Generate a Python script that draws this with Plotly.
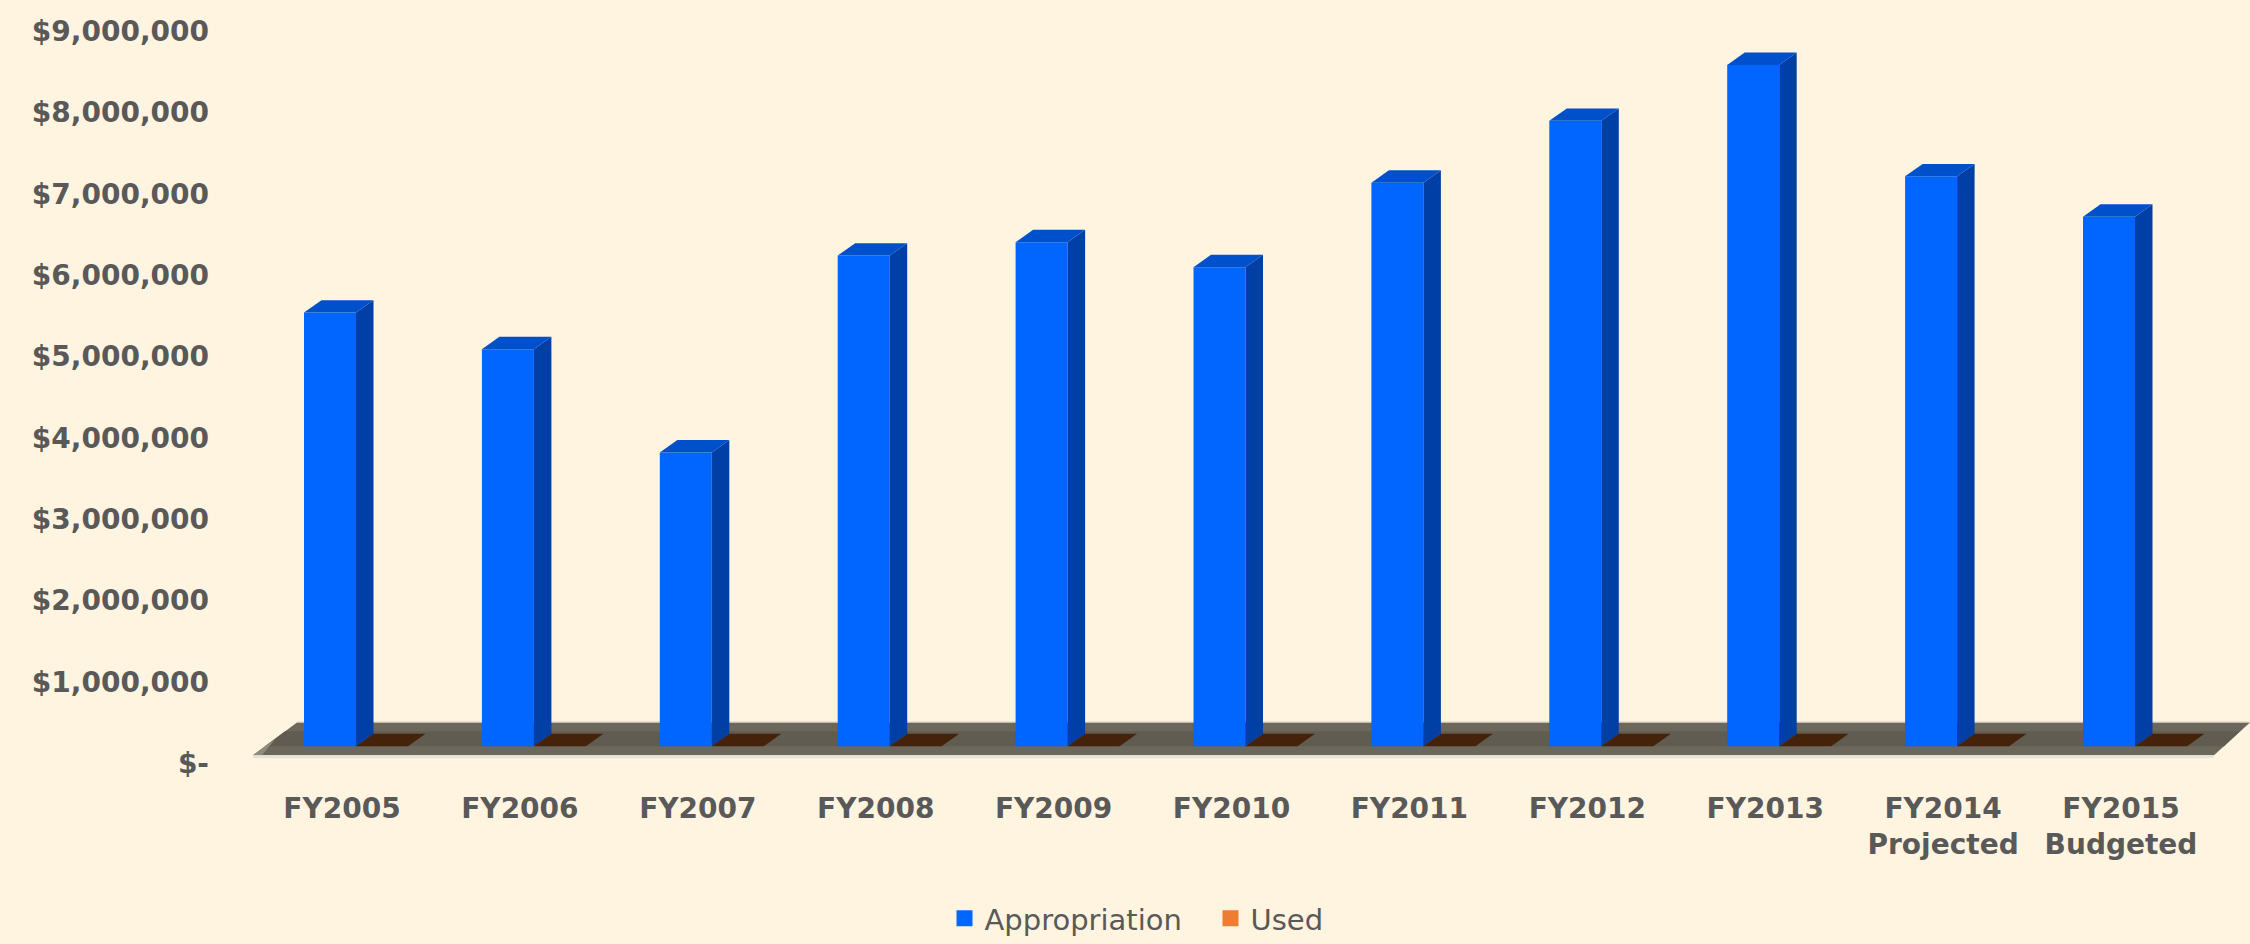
import plotly.graph_objects as go

# ---------------- data ----------------
categories = ["FY2005", "FY2006", "FY2007", "FY2008", "FY2009", "FY2010",
              "FY2011", "FY2012", "FY2013", "FY2014<br>Projected", "FY2015<br>Budgeted"]
appropriation = [5330000, 4880000, 3610000, 6030000, 6195000, 5887000,
                 6927000, 7687000, 8374000, 7004000, 6508000]
used = [0, 0, 0, 0, 0, 0, 0, 0, 0, 0, 0]
y_tickvals = [0, 1000000, 2000000, 3000000, 4000000, 5000000, 6000000, 7000000, 8000000, 9000000]
y_ticktext = ["$-", "$1,000,000", "$2,000,000", "$3,000,000", "$4,000,000", "$5,000,000",
              "$6,000,000", "$7,000,000", "$8,000,000", "$9,000,000"]

# ---------------- geometry / style ----------------
W, H = 2250, 944
ML, MR, MT, MB = 210, 0, 8, 159
PX_PER_CAT = 177.9
CAT0_PX = 342.0
ZERO_PX = 752.0
PX_PER_DOLLAR = 82.0 / 1e6

def xd(px):
    return (px - CAT0_PX) / PX_PER_CAT

def yd(py):
    return (ZERO_PX - py) / PX_PER_DOLLAR

x_range = [xd(ML), xd(W - MR)]
y_range = [yd(H - MB), yd(MT)]

BAR_W = 52 / PX_PER_CAT
APP_OFF = -38 / PX_PER_CAT
USED_OFF = 14 / PX_PER_CAT
DX = 17.5 / PX_PER_CAT
DY = 12.5 / PX_PER_DOLLAR

BG = "#FFF4DF"
FRONT = "#0066FF"
SIDE = "#0040A6"
CAP = "#0050CC"
USED_COLOR = "#EE7D31"
USED_TOP = "#45230A"
TXT = "#595959"
FONT = "DejaVu Sans"

n = len(categories)
xs = list(range(n))

fig = go.Figure()

# front faces of the bars
fig.add_trace(go.Bar(
    x=xs, y=appropriation, name="Appropriation",
    offset=APP_OFF, width=BAR_W, legendgroup="app", showlegend=False,
    marker=dict(color=FRONT, line=dict(width=0)),
    hoverinfo="skip"))
fig.add_trace(go.Bar(
    x=xs, y=used, name="Used",
    offset=USED_OFF, width=BAR_W, legendgroup="used", showlegend=False,
    marker=dict(color=USED_COLOR, line=dict(width=0)),
    hoverinfo="skip"))

# 3D side faces and caps, derived from the data
for i, v in enumerate(appropriation):
    xl = i + APP_OFF
    xr = xl + BAR_W
    fig.add_trace(go.Scatter(
        x=[xr, xr + DX, xr + DX, xr, xr], y=[0, DY, v + DY, v, 0],
        fill="toself", fillcolor=SIDE, mode="lines", line=dict(width=0),
        showlegend=False, hoverinfo="skip"))
    fig.add_trace(go.Scatter(
        x=[xl, xl + DX, xr + DX, xr, xl], y=[v, v + DY, v + DY, v, v],
        fill="toself", fillcolor=CAP, mode="lines", line=dict(width=0),
        showlegend=False, hoverinfo="skip"))

for i, v in enumerate(used):
    xl = i + USED_OFF
    xr = xl + BAR_W
    fig.add_trace(go.Scatter(
        x=[xl, xl + DX, xr + DX, xr, xl], y=[v, v + DY, v + DY, v, v],
        fill="toself", fillcolor=USED_TOP, mode="lines", line=dict(width=0),
        showlegend=False, hoverinfo="skip"))

# legend entries (square swatches)
fig.add_trace(go.Scatter(x=[None], y=[None], mode="markers", name="Appropriation",
                         legendgroup="app",
                         marker=dict(symbol="square", size=16, color=FRONT)))
fig.add_trace(go.Scatter(x=[None], y=[None], mode="markers", name="Used",
                         legendgroup="used",
                         marker=dict(symbol="square", size=16, color=USED_COLOR)))

# floor slab (drawn below the traces)
def poly(points):
    parts = []
    for k, (px, py) in enumerate(points):
        parts.append(("M" if k == 0 else "L") + f"{xd(px)},{yd(py)}")
    return " ".join(parts) + " Z"

shapes = [
    dict(type="path", layer="below", line=dict(width=0), fillcolor="#6C675B",
         path=poly([(253, 761), (297, 728), (2250, 728), (2214, 761)])),
    dict(type="path", layer="below", line=dict(width=0), fillcolor="#615C52",
         path=poly([(265, 752), (285, 737), (2240, 737), (2224, 752)])),
    dict(type="path", layer="below", line=dict(width=0), fillcolor="#8F8A7E",
         path=poly([(253, 761), (265, 752), (275, 745), (262, 761)])),
    dict(type="line", layer="below", line=dict(color="#E6E2D8", width=3),
         x0=xd(253), x1=xd(2214), y0=yd(762.5), y1=yd(762.5)),
    dict(type="line", layer="below", line=dict(color="#D9D3C4", width=1),
         x0=xd(297), x1=xd(2250), y0=yd(727.5), y1=yd(727.5)),
]

fig.update_layout(
    width=W, height=H,
    margin=dict(l=ML, r=MR, t=MT, b=MB, pad=0),
    paper_bgcolor=BG, plot_bgcolor=BG,
    barmode="overlay",
    showlegend=True,
    shapes=shapes,
    font=dict(family=FONT, color=TXT),
    legend=dict(orientation="h", xanchor="left", x=(944.5 - ML) / (W - ML - MR),
                yanchor="middle", y=-0.1815, itemsizing="trace", entrywidth=221,
                font=dict(family=FONT, size=29, color=TXT),
                bgcolor="rgba(0,0,0,0)", itemclick=False, itemdoubleclick=False),
    xaxis=dict(range=x_range, tickmode="array", tickvals=xs, ticktext=categories,
               showgrid=False, zeroline=False, showline=False, ticks="",
               ticklabelstandoff=10,
               tickfont=dict(family=FONT, size=28, color=TXT, weight="bold"),
               fixedrange=True),
    yaxis=dict(range=y_range, tickmode="array", tickvals=y_tickvals, ticktext=y_ticktext,
               showgrid=False, zeroline=False, showline=False, ticks="",
               ticklabelshift=17,
               tickfont=dict(family=FONT, size=28, color=TXT, weight="bold"),
               fixedrange=True),
)

fig.write_html("out.html", config={"displayModeBar": False})
